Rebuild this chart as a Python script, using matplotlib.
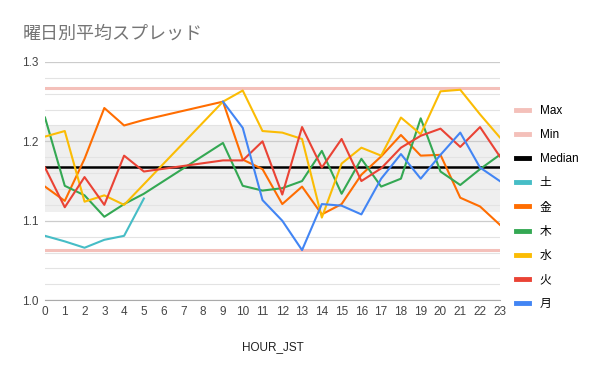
import numpy as np
import matplotlib
matplotlib.use("Agg")
import matplotlib.pyplot as plt

plt.rcParams['font.family'] = ['Liberation Sans', 'Noto Sans CJK JP', 'DejaVu Sans']

# data (hours 6-8 missing)
hours = list(range(24))
N = None
sat = [1.081, 1.074, 1.066, 1.076, 1.081, 1.128, N, N, N] + [N] * 15
fri = [1.143, 1.125, 1.178, 1.242, 1.220, 1.227, N, N, N, 1.250, 1.177, 1.165,
       1.121, 1.143, 1.108, 1.121, 1.158, 1.181, 1.208, 1.182, 1.183, 1.129, 1.118, 1.095]
thu = [1.230, 1.144, 1.132, 1.105, 1.121, 1.134, N, N, N, 1.198, 1.144, 1.138,
       1.141, 1.150, 1.188, 1.134, 1.178, 1.143, 1.153, 1.229, 1.162, 1.145, 1.165, 1.183]
wed = [1.206, 1.213, 1.124, 1.132, 1.120, 1.146, N, N, N, 1.250, 1.264, 1.213,
       1.211, 1.203, 1.104, 1.172, 1.192, 1.182, 1.230, 1.209, 1.263, 1.265, 1.234, 1.205]
tue = [1.167, 1.117, 1.155, 1.120, 1.182, 1.162, N, N, N, 1.176, 1.176, 1.200,
       1.133, 1.218, 1.167, 1.203, 1.150, 1.166, 1.192, 1.207, 1.216, 1.193, 1.218, 1.181]
mon = [N] * 9 + [1.250, 1.217, 1.126,
       1.100, 1.063, 1.121, 1.119, 1.108, 1.153, 1.184, 1.153, 1.183, 1.211, 1.167, 1.150]

max_v = 1.267
min_v = 1.063
median_v = 1.1676
q_low, q_high = 1.111, 1.2205

series = [('土', sat, '#46bdc6'), ('金', fri, '#ff6d01'), ('木', thu, '#34a853'),
          ('水', wed, '#fbbc04'), ('火', tue, '#ea4335'), ('月', mon, '#4285f4')]

fig = plt.figure(figsize=(6, 3.71), dpi=100)
ax = fig.add_axes([0.075, 0.191, 0.758, 0.642])

ax.axhspan(q_low, q_high, color='#efefef', zorder=0, lw=0)

handles = []
handles.append(ax.axhline(max_v, color='#f4c0ba', lw=2.2, label='Max', zorder=2))
handles.append(ax.axhline(min_v, color='#f4c0ba', lw=2.2, label='Min', zorder=2))
handles.append(ax.axhline(median_v, color='black', lw=1.8, label='Median', zorder=2))

for name, vals, col in series:
    x = np.array([h for h, v in zip(hours, vals) if v is not None])
    y = np.array([v for v in vals if v is not None])
    ln, = ax.plot(x, y, color=col, lw=1.5, label=name, zorder=3)
    handles.append(ln)

ax.set_xlim(0, 23)
ax.set_ylim(1.0, 1.3)
ax.set_xticks(hours)
ax.set_yticks([1.0, 1.1, 1.2, 1.3])
ax.set_yticks(np.arange(1.0, 1.3, 0.02), minor=True)
ax.yaxis.set_major_formatter(matplotlib.ticker.FormatStrFormatter('%.1f'))
ax.grid(axis='y', which='major', color='#cccccc', lw=0.9, zorder=1)
ax.grid(axis='y', which='minor', color='#e3e3e3', lw=0.8, zorder=1)
ax.tick_params(axis='both', which='both', length=0, labelsize=8.5, colors='#444444', pad=5)
ax.tick_params(axis='x', pad=4)
for s in ['top', 'right', 'left']:
    ax.spines[s].set_visible(False)
ax.spines['bottom'].set_color('#aaaaaa')
ax.set_axisbelow(True)

ax.set_xlabel('HOUR_JST', fontsize=8.5, color='#222222', labelpad=17)
fig.text(0.037, 0.895, '曜日別平均スプレッド', fontsize=13, color='#757575',
         family=['Noto Sans CJK JP', 'DejaVu Sans'])

fig.legend(handles=handles, loc='upper left', bbox_to_anchor=(0.852, 0.73),
           frameon=False, fontsize=8.5, handlelength=1.1, handletextpad=0.9,
           labelspacing=1.03, borderaxespad=0)
for h in fig.legends[0].legend_handles:
    h.set_linewidth(3.5)

fig.savefig('out.png', dpi=100)
